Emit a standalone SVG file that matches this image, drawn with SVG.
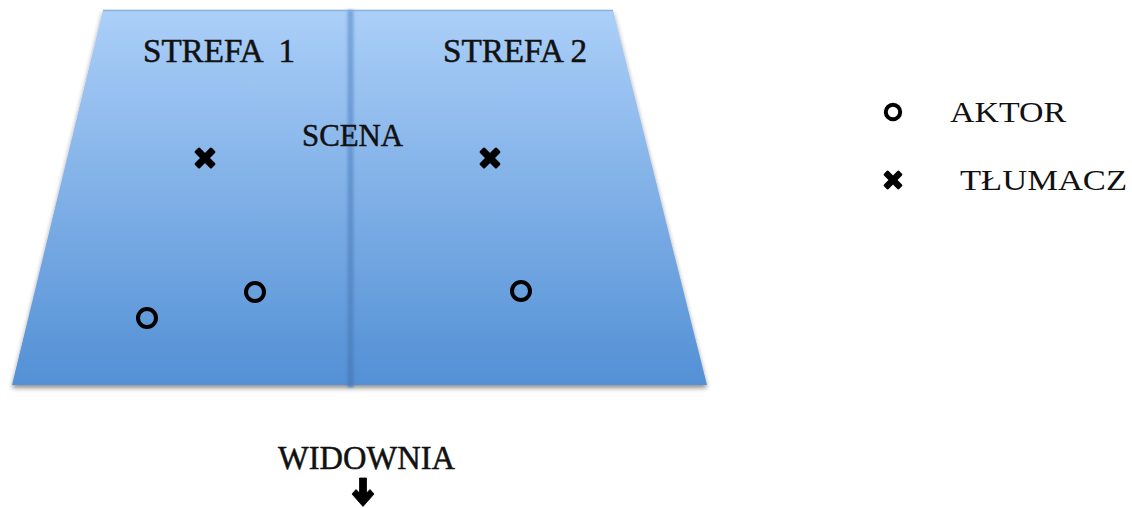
<svg xmlns="http://www.w3.org/2000/svg" width="1132" height="508" viewBox="0 0 1132 508">
  <defs>
    <linearGradient id="stageGrad" x1="0" y1="0" x2="0" y2="1">
      <stop offset="0" stop-color="#abcff8"/>
      <stop offset="1" stop-color="#5390d5"/>
    </linearGradient>
    <linearGradient id="divGrad" x1="0" y1="0" x2="0" y2="1">
      <stop offset="0" stop-color="#79a6db"/>
      <stop offset="1" stop-color="#4a7fbf"/>
    </linearGradient>
    <filter id="shadow" x="-5%" y="-5%" width="110%" height="115%">
      <feGaussianBlur in="SourceAlpha" stdDeviation="2.5"/>
      <feOffset dx="0" dy="3" result="b"/>
      <feComponentTransfer><feFuncA type="linear" slope="0.45"/></feComponentTransfer>
      <feMerge><feMergeNode/><feMergeNode in="SourceGraphic"/></feMerge>
    </filter>
    <filter id="soft" x="-100%" y="-5%" width="300%" height="110%">
      <feGaussianBlur stdDeviation="1.5"/>
    </filter>
    <g id="cross">
      <rect x="-12" y="-3.6" width="24" height="7.2" rx="1.5" fill="#000" transform="rotate(45)"/>
      <rect x="-12" y="-3.6" width="24" height="7.2" rx="1.5" fill="#000" transform="rotate(-45)"/>
    </g>
  </defs>
  <style>
    .lbl { font-family: "Liberation Serif", "DejaVu Serif", serif; fill: #111; }
    .heavy { stroke: #111; stroke-width: 0.5; }
    .actor { fill: none; stroke: #000; stroke-width: 4; }
  </style>
  <rect width="1132" height="508" fill="#fff"/>

  <g id="scena">
    <polygon points="103,10 613,10 707,385 12,385" fill="url(#stageGrad)" filter="url(#shadow)"/>
    <line x1="103" y1="10.5" x2="613" y2="10.5" stroke="#8bb3e0" stroke-width="1.5"/>
    <rect x="347.5" y="10" width="6" height="377" fill="url(#divGrad)" filter="url(#soft)"/>
    <text class="lbl heavy" x="302" y="146" font-size="31" textLength="101" lengthAdjust="spacingAndGlyphs">SCENA</text>
  </g>

  <g id="strefa1">
    <text class="lbl heavy" x="143" y="62" font-size="33" textLength="152" lengthAdjust="spacingAndGlyphs" xml:space="preserve">STREFA  1</text>
  </g>
  <g id="strefa2">
    <text class="lbl heavy" x="443" y="62" font-size="33" textLength="144" lengthAdjust="spacingAndGlyphs">STREFA 2</text>
  </g>

  <g id="tlumacz1"><use href="#cross" x="205" y="158"/></g>
  <g id="tlumacz2"><use href="#cross" x="490" y="158"/></g>
  <g id="aktor1"><circle class="actor" cx="147" cy="318" r="9"/></g>
  <g id="aktor2"><circle class="actor" cx="255" cy="292" r="9"/></g>
  <g id="aktor3"><circle class="actor" cx="521" cy="291" r="9"/></g>

  <g id="legend-aktor">
    <circle class="actor" cx="893" cy="112" r="7.2" stroke-width="4.5"/>
    <text class="lbl" x="950" y="122" font-size="30" textLength="116" lengthAdjust="spacingAndGlyphs">AKTOR</text>
  </g>
  <g id="legend-tlumacz">
    <use href="#cross" x="893" y="180" transform="translate(893,180) scale(0.9) translate(-893,-180)"/>
    <text class="lbl" x="960" y="190" font-size="30" textLength="167" lengthAdjust="spacingAndGlyphs">TŁUMACZ</text>
  </g>

  <g id="widownia">
    <text class="lbl heavy" x="278" y="469" font-size="33" textLength="177" lengthAdjust="spacingAndGlyphs">WIDOWNIA</text>
    <path d="M359.5,478 L366.5,478 L366.5,493 L370,489.5 L374,494 L363,506.5 L352,494 L356,489.5 L359.5,493 Z" fill="#000" stroke="#000" stroke-width="0.8" stroke-linejoin="round"/>
  </g>
</svg>
